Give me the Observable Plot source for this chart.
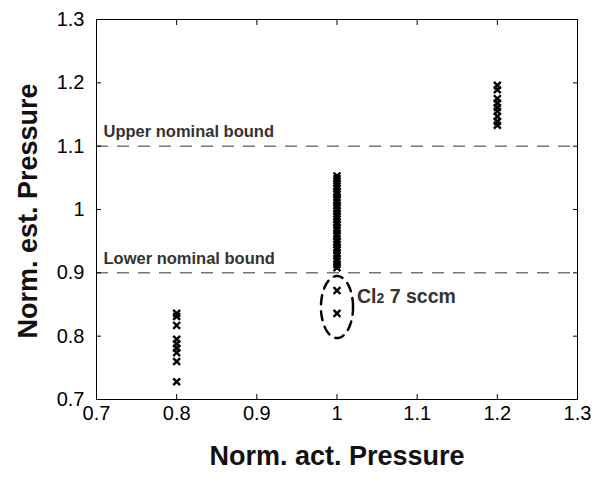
<!DOCTYPE html>
<html>
<head>
<meta charset="utf-8">
<script src="https://cdn.jsdelivr.net/npm/d3@7"></script>
<script src="https://cdn.jsdelivr.net/npm/@observablehq/plot@0.6"></script>
<style>
  html, body { margin: 0; padding: 0; background: #fff; }
  svg { font-family: "Liberation Sans", Arial, sans-serif; }
</style>
</head>
<body>
<div id="chart"></div>
<script>
// ---- data ----
const xTicks = [0.7, 0.8, 0.9, 1.0, 1.1, 1.2, 1.3];
const yTicks = [0.7, 0.8, 0.9, 1.0, 1.1, 1.2, 1.3];
const tickLabels = ["0.7", "0.8", "0.9", "1", "1.1", "1.2", "1.3"];

const est08 = [0.836, 0.831, 0.817, 0.795, 0.788, 0.781, 0.774, 0.760, 0.728];
const est10 = [1.053, 1.049, 1.045, 1.041, 1.037, 1.033, 1.028, 1.024, 1.019, 1.015,
               1.011, 1.006, 1.002, 0.998, 0.993, 0.989, 0.985, 0.980, 0.976, 0.971,
               0.967, 0.962, 0.958, 0.953, 0.949, 0.945, 0.940, 0.936, 0.931, 0.927,
               0.922, 0.918, 0.913, 0.908];
const est10Outliers = [0.872, 0.836];
const est12 = [1.196, 1.189, 1.175, 1.168, 1.161, 1.155, 1.147, 1.139, 1.133];

const bounds = [1.1, 0.9];
const boundLabels = ["Upper nominal bound", "Lower nominal bound"];

const ellipseCenter = [1.0, 0.846];
const ellipseRadii = [0.02, 0.049];
const annotation = {x: 1.025, y: 0.862};

// ---- build tables ----
const points = [
  ...est08.map(v => ({x: 0.8, y: v})),
  ...est10.map(v => ({x: 1.0, y: v})),
  ...est10Outliers.map(v => ({x: 1.0, y: v})),
  ...est12.map(v => ({x: 1.2, y: v}))
];
const boundRows = bounds.map((b, i) => ({y: b, label: boundLabels[i]}));
const ellipse = d3.range(0, 121).map(i => {
  const t = (i / 120) * 2 * Math.PI;
  return {x: ellipseCenter[0] + ellipseRadii[0] * Math.cos(t),
          y: ellipseCenter[1] + ellipseRadii[1] * Math.sin(t)};
});
const fmt = d => tickLabels[xTicks.findIndex(t => Math.abs(t - d) < 1e-9)];

const chart = Plot.plot({
  width: 603,
  height: 479,
  marginLeft: 96,
  marginRight: 26,
  marginTop: 19,
  marginBottom: 80,
  style: {fontFamily: "Liberation Sans, Arial, sans-serif", fontSize: "20px", background: "#fff", color: "#000"},
  x: {domain: [0.7, 1.3]},
  y: {domain: [0.7, 1.3]},
  marks: [
    Plot.ruleY(boundRows, {y: "y", stroke: "#333", strokeWidth: 1, strokeDasharray: "12,9"}),
    Plot.text(boundRows, {x: 0.7, y: "y", text: "label", dx: 7, dy: -14, textAnchor: "start",
      fontSize: 16.5, fontWeight: "bold", fill: "#333", className: "bound-label"}),
    Plot.line(ellipse, {x: "x", y: "y", stroke: "#000", strokeWidth: 2.5, strokeDasharray: "9,7"}),
    Plot.dot(points, {x: "x", y: "y", symbol: "times", r: 3.2, stroke: "#000", strokeWidth: 2.4}),
    Plot.text([annotation], {x: "x", y: "y", text: () => "CL7", textAnchor: "start",
      fontSize: 19.5, fontWeight: "bold", fill: "#333", className: "cl-label"}),
    Plot.frame({stroke: "#000", strokeWidth: 1}),
    // tick labels
    Plot.axisX(xTicks, {anchor: "bottom", tickSize: 0, tickPadding: 6, tickFormat: fmt, label: null, className: "tick-lab"}),
    Plot.axisY(yTicks, {anchor: "left", tickSize: 0, tickPadding: 12, tickFormat: fmt, label: null, className: "tick-lab"}),
    // inward ticks
    Plot.axisX(xTicks, {anchor: "bottom", tickSize: -5, tickFormat: () => "", label: null}),
    Plot.axisX(xTicks, {anchor: "top", tickSize: -5, tickFormat: () => "", label: null}),
    Plot.axisY(yTicks, {anchor: "left", tickSize: -5, tickFormat: () => "", label: null}),
    Plot.axisY(yTicks, {anchor: "right", tickSize: -5, tickFormat: () => "", label: null})
  ]
});

document.getElementById("chart").appendChild(chart);

const svg = d3.select(chart);
// enforce tick label size
svg.selectAll("g[aria-label$='tick label'] text")
  .attr("font-size", 20).style("font-size", "20px");

// axis titles
svg.append("text")
  .attr("x", 337).attr("y", 465)
  .attr("text-anchor", "middle")
  .attr("font-size", 27).attr("font-weight", "bold").attr("fill", "#111")
  .text("Norm. act. Pressure");
svg.append("text")
  .attr("transform", "translate(37,211) rotate(-90)")
  .attr("text-anchor", "middle")
  .attr("font-size", 27).attr("font-weight", "bold").attr("fill", "#111")
  .text("Norm. est. Pressure");

// rich text for Cl2 label
svg.selectAll(".cl-label text").each(function() {
  const t = d3.select(this);
  t.text(null);
  t.append("tspan").text("Cl");
  t.append("tspan").attr("font-size", 14).text("2");
  t.append("tspan").text(" 7 sccm");
});
</script>
</body>
</html>
